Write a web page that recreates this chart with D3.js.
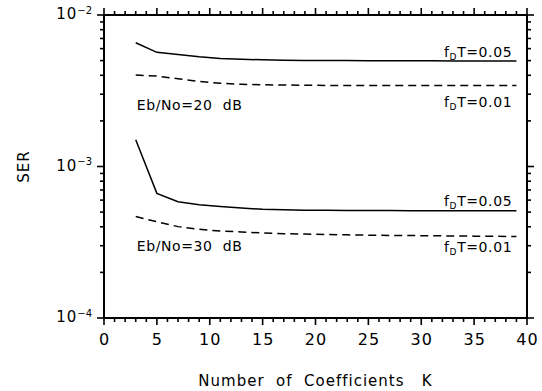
<!DOCTYPE html>
<html>
<head>
<meta charset="utf-8">
<script src="https://cdn.jsdelivr.net/npm/d3@7"></script>
<style>
  body { margin: 0; background: #fff; }
  text { font-family: "DejaVu Sans", sans-serif; fill: #000; }
</style>
</head>
<body>
<div id="chart"></div>
<script>
// Number of coefficients K
const coeffs = [3, 5, 7, 9, 11, 13, 15, 17, 19, 21, 23, 25, 27, 29, 31, 33, 35, 37, 39];

// SER values
const ser20_005 = [6.56e-3, 5.67e-3, 5.48e-3, 5.30e-3, 5.17e-3, 5.10e-3, 5.06e-3, 5.03e-3, 5.01e-3, 5.00e-3,
                   5.00e-3, 4.99e-3, 4.99e-3, 4.98e-3, 4.98e-3, 4.97e-3, 4.97e-3, 4.97e-3, 4.97e-3];
const ser20_001 = [4.02e-3, 3.95e-3, 3.80e-3, 3.64e-3, 3.54e-3, 3.49e-3, 3.46e-3, 3.45e-3, 3.44e-3, 3.43e-3,
                   3.43e-3, 3.43e-3, 3.42e-3, 3.42e-3, 3.42e-3, 3.42e-3, 3.42e-3, 3.42e-3, 3.42e-3];
const ser30_005 = [1.50e-3, 6.65e-4, 5.86e-4, 5.60e-4, 5.45e-4, 5.32e-4, 5.22e-4, 5.18e-4, 5.15e-4, 5.14e-4,
                   5.13e-4, 5.12e-4, 5.12e-4, 5.11e-4, 5.11e-4, 5.10e-4, 5.10e-4, 5.10e-4, 5.10e-4];
const ser30_001 = [4.67e-4, 4.32e-4, 4.01e-4, 3.85e-4, 3.75e-4, 3.70e-4, 3.64e-4, 3.60e-4, 3.58e-4, 3.56e-4,
                   3.54e-4, 3.52e-4, 3.51e-4, 3.50e-4, 3.49e-4, 3.48e-4, 3.47e-4, 3.46e-4, 3.45e-4];

const xTicks = [0, 5, 10, 15, 20, 25, 30, 35, 40];
const yDecades = [1e-2, 1e-3, 1e-4];
const yExponents = ['\u22122', '\u22123', '\u22124'];

const series = [
  { values: ser20_005, dashed: false },
  { values: ser20_001, dashed: true },
  { values: ser30_005, dashed: false },
  { values: ser30_001, dashed: true }
];

// text annotations, placed in data coordinates
const notes = [
  { k: 38.6, ser: 5.28e-3, sub: 'D', text: 'T=0.05', anchor: 'end' },
  { k: 38.6, ser: 2.47e-3, sub: 'D', text: 'T=0.01', anchor: 'end' },
  { k: 3.1,  ser: 2.36e-3, text: 'Eb/No=20  dB', anchor: 'start' },
  { k: 38.6, ser: 5.48e-4, sub: 'D', text: 'T=0.05', anchor: 'end' },
  { k: 38.6, ser: 2.73e-4, sub: 'D', text: 'T=0.01', anchor: 'end' },
  { k: 3.1,  ser: 2.77e-4, text: 'Eb/No=30  dB', anchor: 'start' }
];

const width = 542, height = 391;
const margin = { top: 15, right: 15, bottom: 73, left: 104 };
const w = width - margin.left - margin.right;
const h = height - margin.top - margin.bottom;

const svg = d3.select('#chart').append('svg')
  .attr('width', width)
  .attr('height', height);

const g = svg.append('g')
  .attr('transform', 'translate(' + margin.left + ',' + margin.top + ')');

const x = d3.scaleLinear().domain([0, 40]).range([0, w]);
const y = d3.scaleLog().domain([1e-4, 1e-2]).range([h, 0]);

const xAll = d3.range(0, 41);
const yAll = y.ticks();
const isMajorX = d => d % 5 === 0;
const isMajorY = d => yDecades.some(v => Math.abs(v - d) / v < 1e-6);

// tick marks, outward on all four sides
const tickSpecs = [
  ['bottom', xAll, x, isMajorX], ['top', xAll, x, isMajorX],
  ['left', yAll, y, isMajorY], ['right', yAll, y, isMajorY]
];
tickSpecs.forEach(([side, vals, sc, maj]) => {
  g.append('g').selectAll('line')
    .data(vals)
    .enter()
    .append('line')
    .each(function(d) {
      const p = sc(d), len = maj(d) ? 7 : 4;
      const el = d3.select(this);
      if (side === 'bottom') el.attr('x1', p).attr('x2', p).attr('y1', h).attr('y2', h + len);
      else if (side === 'top') el.attr('x1', p).attr('x2', p).attr('y1', 0).attr('y2', -len);
      else if (side === 'left') el.attr('x1', 0).attr('x2', -len).attr('y1', p).attr('y2', p);
      else el.attr('x1', w).attr('x2', w + len).attr('y1', p).attr('y2', p);
    })
    .attr('stroke', '#000')
    .attr('stroke-width', 1.6);
});

// tick labels via the axes
const xb = g.append('g').attr('transform', 'translate(0,' + h + ')')
  .call(d3.axisBottom(x).tickValues(xTicks).tickSize(0).tickPadding(16));
xb.select('.domain').remove();
xb.selectAll('.tick line').remove();
xb.selectAll('.tick text')
  .style('font-size', '16px')
  .style('letter-spacing', '1px');

const yl = g.append('g')
  .call(d3.axisLeft(y).tickValues(yDecades).tickSize(0).tickFormat(''));
yl.select('.domain').remove();
yl.selectAll('.tick line').remove();
yl.selectAll('.tick').each(function(d, i) {
  const t = d3.select(this).append('text')
    .attr('x', -12)
    .attr('y', 0)
    .attr('dy', '0.35em')
    .attr('text-anchor', 'end');
  t.append('tspan').style('font-size', '15px').style('letter-spacing', '1px').text('10');
  t.append('tspan').attr('dy', '-0.55em').style('font-size', '10px').text(yExponents[i]);
});

// frame
g.append('rect')
  .attr('width', w)
  .attr('height', h)
  .attr('fill', 'none')
  .attr('stroke', '#000')
  .attr('stroke-width', 2);

// lines
const line = d3.line()
  .x((d, i) => x(coeffs[i]))
  .y(d => y(d));

g.selectAll('path.series')
  .data(series)
  .enter()
  .append('path')
  .attr('class', 'series')
  .attr('d', d => line(d.values))
  .attr('fill', 'none')
  .attr('stroke', '#000')
  .attr('stroke-width', 1.5)
  .attr('stroke-dasharray', d => d.dashed ? '8,5' : null);

// annotations
notes.forEach(n => {
  const t = g.append('text')
    .attr('x', x(n.k))
    .attr('y', y(n.ser))
    .attr('text-anchor', n.anchor)
    .style('font-size', '14px')
    .style('letter-spacing', '0.6px')
    .style('white-space', 'pre');
  if (n.sub) {
    t.append('tspan').text('f');
    t.append('tspan').attr('dy', 3).style('font-size', '9px').text(n.sub);
    t.append('tspan').attr('dy', -3).text(n.text);
  } else {
    t.text(n.text);
  }
});

// axis titles
svg.append('text')
  .attr('x', margin.left + w / 2)
  .attr('y', 386)
  .attr('text-anchor', 'middle')
  .style('font-size', '15px')
  .style('letter-spacing', '1px')
  .style('white-space', 'pre')
  .text('Number  of  Coefficients   K');

svg.append('text')
  .attr('transform', 'translate(29,' + (margin.top + h / 2) + ') rotate(-90)')
  .attr('text-anchor', 'middle')
  .style('font-size', '15px')
  .style('letter-spacing', '1px')
  .text('SER');
</script>
</body>
</html>
